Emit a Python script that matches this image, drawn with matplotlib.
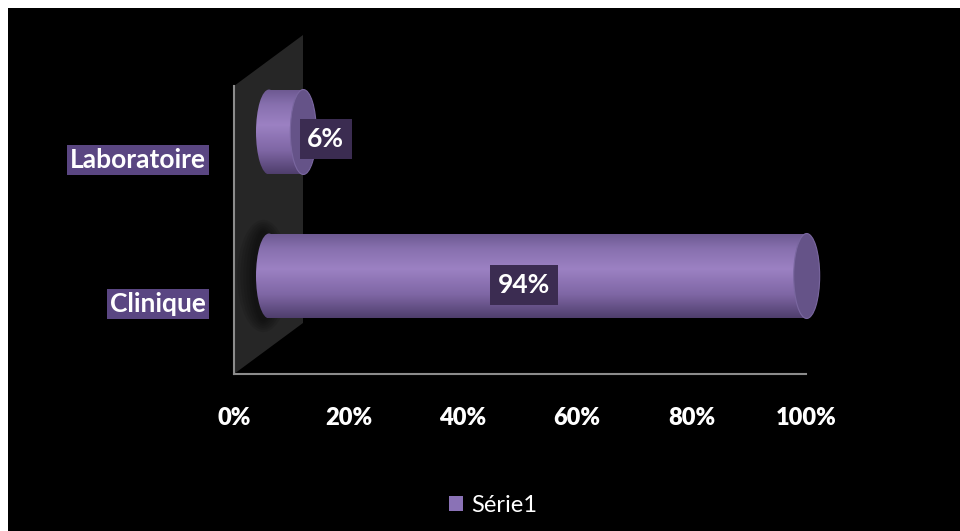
import numpy as np
import matplotlib
matplotlib.use('Agg')
import matplotlib.pyplot as plt
import matplotlib.transforms as mtransforms
from matplotlib.patches import Rectangle, Ellipse, Polygon, Patch
from matplotlib.colors import LinearSegmentedColormap

plt.rcParams['font.family'] = ['Lato', 'DejaVu Sans']

# données
categories = ['Clinique', 'Laboratoire']
values = [0.94, 0.06]
value_labels = ['94%', '6%']
xticks = [0, 0.2, 0.4, 0.6, 0.8, 1.0]
xtick_labels = ['0%', '20%', '40%', '60%', '80%', '100%']
series_name = 'Série1'

W, H = 960, 531
fig = plt.figure(figsize=(W / 100, H / 100), dpi=100, facecolor='white')
# fond noir avec la petite marge blanche en haut et à gauche
fig.add_artist(Rectangle((8 / W, 0), (W - 8) / W, (H - 8) / H, transform=fig.transFigure,
                         facecolor='black', edgecolor='none', zorder=-10))

ax = fig.add_axes([234 / W, 157 / H, 572 / W, 288 / H])
ax.set_facecolor('none')

# effet 3D : profondeur en pixels
px_x = 572.0   # pixels par unité en x
px_y = 144.0   # pixels par unité en y
bar_dx, bar_dy = 35, 26
wall_dx, wall_dy = 69 / px_x, 51 / px_y
bar_tr = ax.transData + mtransforms.ScaledTranslation(bar_dx / 100, bar_dy / 100, fig.dpi_scale_trans)

# paroi du fond
wall = Polygon([(0, -0.5), (0, 1.5), (wall_dx, 1.5 + wall_dy), (wall_dx, -0.5 + wall_dy)],
               closed=True, facecolor='#262626', edgecolor='none', clip_on=False, zorder=1)
ax.add_patch(wall)

cyl_cmap = LinearSegmentedColormap.from_list(
    'cyl', [(0, '#6c5890'), (0.18, '#8770ae'), (0.42, '#9c81c3'), (0.72, '#7f67a5'), (1, '#4f3e6c')])
grad = np.linspace(0, 1, 256).reshape(-1, 1)

h = 0.59
ew = 26 / px_x

for i, (v, txt) in enumerate(zip(values, value_labels)):
    # ombre douce sur la paroi
    if v > 0.5:
        for k in range(6):
            sh = Ellipse((-0.01, i), (52 - k * 6) / px_x, h * (1.32 - k * 0.05), transform=bar_tr,
                         facecolor='black', edgecolor='none', alpha=0.09, zorder=2, clip_on=False)
            ax.add_patch(sh)
            sh.set_clip_path(wall)

    # corps du cylindre (dégradé) + fond arrondi
    body = Rectangle((0, i - h / 2), v, h, transform=bar_tr)
    back = Ellipse((0, i), ew, h, transform=bar_tr)
    for clip in (body, back):
        im = ax.imshow(grad, cmap=cyl_cmap, aspect='auto', interpolation='bilinear',
                       extent=(-ew / 2, v, i - h / 2, i + h / 2), transform=bar_tr, zorder=3)
        im.set_clip_path(clip)

    # extrémité du cylindre
    ax.add_patch(Ellipse((v, i), ew, h, transform=bar_tr, facecolor='#655388',
                         edgecolor='#7a67a0', lw=0.8, zorder=4, clip_on=False))

    # étiquette de valeur
    if v >= 0.25:
        tr = ax.transData + mtransforms.ScaledTranslation(0.21, 0.17, fig.dpi_scale_trans)
        ax.text(v / 2, i, txt, transform=tr, ha='center', va='center', color='white',
                fontsize=19, fontweight='bold', zorder=6,
                bbox=dict(facecolor='#3b2c51', edgecolor='none', pad=5.5))
    else:
        tr = ax.transData + mtransforms.ScaledTranslation(0.39, 0.19, fig.dpi_scale_trans)
        ax.text(v, i, txt, transform=tr, ha='left', va='center', color='white',
                fontsize=19, fontweight='bold', zorder=6,
                bbox=dict(facecolor='#3b2c51', edgecolor='none', pad=5.5))

ax.set_xlim(0, 1)
ax.set_ylim(-0.5, 1.5)

# axes
for s in ('top', 'right'):
    ax.spines[s].set_visible(False)
for s in ('left', 'bottom'):
    ax.spines[s].set_color('#8c8c8c')
    ax.spines[s].set_linewidth(1.5)

ax.set_xticks(xticks, xtick_labels)
ax.tick_params(axis='x', length=0, pad=24, labelcolor='white', labelsize=17)
for t in ax.get_xticklabels():
    t.set_fontweight('heavy')

ax.set_yticks([0, 1], categories)
ax.tick_params(axis='y', length=0, pad=20, labelcolor='white', labelsize=19)
for t in ax.get_yticklabels():
    t.set_fontweight('bold')
    t.set_bbox(dict(facecolor='#5a4682', edgecolor='none', pad=2))

# légende
fig.legend(handles=[Patch(facecolor='#8a72b6', edgecolor='none')], labels=[series_name],
           loc='center', bbox_to_anchor=(493 / W, 1 - 505 / H), frameon=False,
           prop=dict(family='Lato', size=17), labelcolor='white',
           handlelength=0.6, handleheight=0.6, handletextpad=0.35)

fig.savefig('out.png', dpi=100, facecolor=fig.get_facecolor())
